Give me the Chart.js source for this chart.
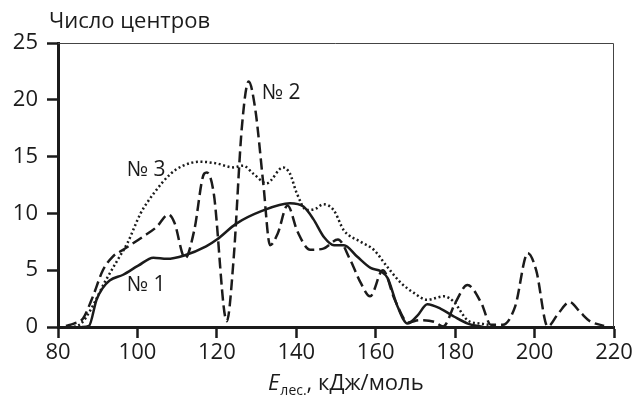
<!DOCTYPE html>
<html>
<head>
<meta charset="utf-8">
<script src="https://cdn.jsdelivr.net/npm/chart.js@4"></script>
<style>
  body { margin: 0; background: #fff; }
  #grafico { display: block; }
</style>
</head>
<body>
<canvas id="grafico" width="636" height="401"></canvas>
<script>
  // energia de dessorção (kJ/mol) e número de centros
  const xTicks = [80, 100, 120, 140, 160, 180, 200, 220];
  const yTicks = [0, 5, 10, 15, 20, 25];

  const titulo = "Число центров";
  const eixoX = ["E", "лес.", ", кДж/моль"];
  const rotulos = ["№ 1", "№ 2", "№ 3"];

  // № 1 — linha contínua
  const x1 = [86, 87.8, 89.7, 91.2, 93, 96.4, 100.2, 104, 107.4, 111.8, 117.3, 120, 124.9, 131.2, 138.4, 141.8, 144.3, 147, 149.5, 152, 155.3, 158.7, 161.3, 163, 165.5, 168, 170.5, 173, 176.4, 179.8, 183.2, 187];
  const y1 = [0, 0.1, 2.4, 3.4, 4.1, 4.6, 5.4, 6.1, 6.0, 6.3, 7.1, 7.7, 9.1, 10.2, 10.9, 10.6, 9.5, 7.9, 7.2, 7.2, 6.2, 5.2, 4.9, 4.3, 1.8, 0.3, 1.0, 2.0, 1.6, 0.9, 0.3, 0];

  // № 2 — tracejada
  const x2 = [82, 84, 86.3, 88.8, 91.3, 93.8, 96.4, 101.4, 104.8, 107.8, 109.3, 112, 114.3, 116.8, 117.5, 119.2, 122.5, 124.2, 126.3, 128, 129.7, 131.7, 133.4, 135.3, 137.8, 140.3, 143.5, 146.8, 150.5, 153.6, 156.2, 158.6, 161.8, 164.8, 168.2, 171, 174.8, 177, 180, 183.1, 186.6, 189, 192, 195.1, 198.3, 200.4, 203.3, 206, 208.8, 211.5, 214, 217.5];
  const y2 = [0.1, 0.3, 0.75, 2.7, 5.0, 6.2, 6.8, 7.95, 8.8, 9.9, 9.2, 6.05, 8.5, 13.5, 13.6, 11.8, 0.5, 5.9, 17.6, 21.6, 19.1, 12.6, 7.2, 8.2, 10.7, 8.4, 6.8, 6.9, 7.7, 5.9, 3.9, 2.7, 5.0, 2.4, 0.4, 0.6, 0.45, 0.05, 2.1, 3.7, 2.1, 0.2, 0.2, 1.8, 6.5, 5.0, 0.05, 1.2, 2.2, 1.3, 0.5, 0.1];

  // № 3 — pontilhada
  const x3 = [84, 85.8, 88.2, 91.7, 95, 97.5, 100.8, 104.2, 108.4, 111.5, 115.7, 119.9, 124.1, 126.6, 129.2, 132.5, 136.7, 138.4, 140.1, 142.6, 144.8, 146.8, 149.4, 152, 156.2, 159.5, 162.9, 166.3, 169.6, 173, 177.2, 179.7, 183.1, 186.4, 188.5];
  const y3 = [0, 0.3, 1.5, 3.9, 5.9, 7.4, 10.0, 11.8, 13.5, 14.2, 14.55, 14.4, 14.05, 14.2, 13.5, 12.65, 14.05, 13.5, 11.8, 10.3, 10.4, 10.8, 10.3, 8.5, 7.5, 6.8, 5.3, 3.9, 3.0, 2.4, 2.7, 2.2, 0.6, 0.3, 0.2];

  // posição dos rótulos das curvas (em coordenadas dos dados)
  const posRotulos = [[97.3, 3.7], [131.3, 20.6], [97.3, 13.8]];

  const fonte = "'Open Sans', 'Noto Sans', sans-serif";
  const tinta = "#1b1b1b";

  function pontos(xs, ys) {
    return xs.map((v, i) => ({ x: v, y: ys[i] }));
  }

  const textos = {
    id: "textos",
    beforeDatasetsDraw(chart) {
      const { ctx, chartArea } = chart;
      ctx.save();
      ctx.strokeStyle = "#444";
      ctx.lineWidth = 1;
      ctx.beginPath();
      ctx.moveTo(chartArea.left, chartArea.top + 0.5);
      ctx.lineTo(chartArea.right - 0.5, chartArea.top + 0.5);
      ctx.lineTo(chartArea.right - 0.5, chartArea.bottom);
      ctx.stroke();
      ctx.restore();
    },
    afterDraw(chart) {
      const { ctx, scales } = chart;
      ctx.save();
      ctx.fillStyle = tinta;
      ctx.textBaseline = "alphabetic";
      ctx.textAlign = "left";

      ctx.font = "22px " + fonte;
      ctx.fillText(titulo, 49, 28);

      // título do eixo x com subscrito
      let x = 268;
      const base = 390;
      ctx.font = "italic 22px " + fonte;
      ctx.fillText(eixoX[0], x, base);
      x += ctx.measureText(eixoX[0]).width + 1;
      ctx.font = "14px " + fonte;
      ctx.fillText(eixoX[1], x, base + 5);
      x += ctx.measureText(eixoX[1]).width;
      ctx.font = "22px " + fonte;
      ctx.fillText(eixoX[2], x, base);

      ctx.font = "21px " + fonte;
      ctx.textBaseline = "middle";
      rotulos.forEach((r, i) => {
        const px = scales.x.getPixelForValue(posRotulos[i][0]);
        const py = scales.y.getPixelForValue(posRotulos[i][1]);
        ctx.fillText(r, px, py);
      });
      ctx.restore();
    }
  };

  new Chart(document.getElementById("grafico"), {
    type: "line",
    data: {
      datasets: [
        {
          label: rotulos[0],
          data: pontos(x1, y1),
          borderColor: tinta,
          borderWidth: 2.5,
          pointRadius: 0,
          cubicInterpolationMode: "monotone"
        },
        {
          label: rotulos[1],
          data: pontos(x2, y2),
          borderColor: tinta,
          borderWidth: 2.5,
          borderDash: [11, 5],
          pointRadius: 0,
          cubicInterpolationMode: "monotone"
        },
        {
          label: rotulos[2],
          data: pontos(x3, y3),
          borderColor: tinta,
          borderWidth: 2.5,
          borderDash: [2, 2.6],
          pointRadius: 0,
          cubicInterpolationMode: "monotone"
        }
      ]
    },
    options: {
      responsive: false,
      animation: false,
      devicePixelRatio: 1,
      layout: { padding: { top: 43, right: 22, left: 0, bottom: 0 } },
      plugins: {
        legend: { display: false },
        tooltip: { enabled: false }
      },
      scales: {
        x: {
          type: "linear",
          min: 80,
          max: 220,
          afterBuildTicks: (s) => { s.ticks = xTicks.map(v => ({ value: v })); },
          afterFit: (s) => { s.height = 74; },
          border: { display: true, color: tinta, width: 3 },
          grid: { drawOnChartArea: false, drawTicks: true, tickLength: 11, tickWidth: 2.5, tickColor: tinta },
          ticks: { color: tinta, font: { family: fonte, size: 22 }, padding: 2, maxRotation: 0 }
        },
        y: {
          min: 0,
          max: 25,
          afterBuildTicks: (s) => { s.ticks = yTicks.map(v => ({ value: v })); },
          afterFit: (s) => { s.width = 58; },
          border: { display: true, color: tinta, width: 3 },
          grid: { drawOnChartArea: false, drawTicks: true, tickLength: 11, tickWidth: 2.5, tickColor: tinta },
          ticks: { color: tinta, font: { family: fonte, size: 22 }, padding: 9 }
        }
      }
    },
    plugins: [textos]
  });
</script>
</body>
</html>
